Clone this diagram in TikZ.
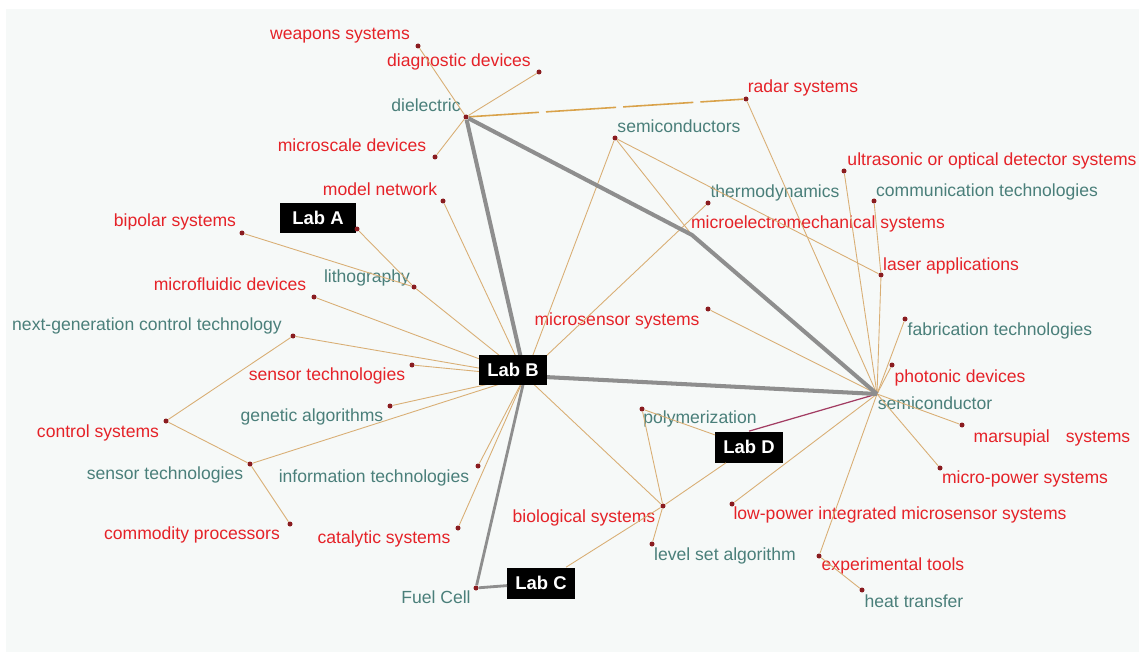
\documentclass[tikz,border=0pt]{standalone}
\usepackage{fontspec}
\setmainfont{Liberation Sans}
\usepackage{xcolor}
\definecolor{termred}{HTML}{E52228}
\definecolor{termteal}{HTML}{4A7F7A}
\definecolor{dotred}{HTML}{8A1C20}
\definecolor{linktan}{HTML}{D9AE74}
\definecolor{hotorange}{HTML}{D9A24A}
\definecolor{labgray}{HTML}{8E8E8E}
\definecolor{labmagenta}{HTML}{A23C62}
\definecolor{panel}{HTML}{F6F9F8}

\begin{document}
\begin{tikzpicture}[
  x=0.02cm,
  y=-0.02cm,
  every node/.style={font=\fontsize{10}{12}\selectfont},
  dot/.style={circle, fill=dotred, inner sep=0pt, minimum size=0.1cm},
  redterm/.style={anchor=base, inner sep=0pt, text=termred},
  tealterm/.style={anchor=base, inner sep=0pt, text=termteal},
  link/.style={linktan, line width=0.5pt},
  hotlink/.style={hotorange, line width=0.9pt, dash pattern=on 40pt off 4pt},
  labline/.style={labgray, line width=2.3pt},
  labthin/.style={labgray, line width=1.6pt},
  dlink/.style={labmagenta, line width=0.7pt},
  labbox/.style={fill=black, text=white,
    font=\fontsize{10.5}{12}\selectfont\bfseries,
    minimum height=0.62cm, inner xsep=0.16cm, inner ysep=0pt}
]
  % ================= canvas ==============================================
  \useasboundingbox (0,0) rectangle (1142,655);
  \fill[panel] (6,9) rectangle (1139,652);

  % ================= lab boxes that the links run to ======================
  \node[labbox, minimum width=1.54cm] (labA) at (318,218) {Lab A};
  \node[labbox] (labC) at (541,583) {Lab C};
  \node[labbox] (labD) at (749,447) {Lab D};

  % ================= terms ===============================================
  \foreach \n/\x/\y/\t in {
      weap/340/40/weapons systems, diag/459/67/diagnostic devices,
      micsc/352/152/microscale devices, model/380/195/model network,
      bipol/175/227/bipolar systems, mfluid/230/290/microfluidic devices,
      sensr/327/380/sensor technologies, ctrl/98/437/control systems,
      commod/192/539/commodity processors, catal/384/543/catalytic systems,
      biol/584/522/biological systems,
      lowp/900/519/low-power integrated microsensor systems,
      exper/893/570/experimental tools, mpower/1025/483/micro-power systems,
      marsu/1052/442/{marsupial\hspace{0.32cm}systems},
      photon/960/382/photonic devices, msens/617/325/microsensor systems,
      laser/951/270/laser applications,
      mems/818/229/microelectromechanical systems,
      ultra/992/166/ultrasonic or optical detector systems,
      radar/803/93/radar systems}
    \node[redterm] (t-\n) at (\x,\y) {\t};

  \foreach \n/\x/\y/\t in {
      diel/426/112/dielectric, litho/367/282/lithography,
      nextgen/147/330/next-generation control technology,
      genet/312/421/genetic algorithms, senst/165/479/sensor technologies,
      info/374/482/information technologies, fuel/436/603/Fuel Cell,
      level/725/560/level set algorithm, polym/700/423/polymerization,
      heat/914/607/heat transfer, semi/935/409/semiconductor,
      fab/1000/335/fabrication technologies,
      comm/987/196/communication technologies,
      thermo/775/197/thermodynamics, semis/679/133/semiconductors}
    \node[tealterm] (t-\n) at (\x,\y) {\t};

  % ================= dots and hubs =======================================
  \foreach \n/\x/\y in {
      weap/418/46, diag/539/72, diel/466/117, micsc/435/157, radar/746/99,
      semis/615/138, thermo/708/203, ultra/844/171, comm/874/201,
      laser/881/275, model/443/201, dA/357/229, litho/414/287,
      bipol/242/233, mfluid/314/297, nextgen/293/336, sensr/412/365,
      genet/390/406, ctrl/166/421, senst/250/464, commod/290/524,
      info/478/466, catal/458/528, fuel/476/588, msens/708/309,
      fab/905/319, photon/892/365, marsu/962/425, mpower/940/468,
      lowp/732/504, exper/819/556, heat/862/590, polym/642/409,
      biol/663/506, level/652/544}
    \node[dot] (\n) at (\x,\y) {};

  \coordinate (hubB) at (525,376);
  \coordinate (semi) at (877,394);
  \coordinate (mems) at (692,235);

  % ================= term links ==========================================
  \foreach \a/\b in {
      diel/weap, diel/diag, diel/micsc, radar/semi, semis/hubB, semis/mems,
      semis/laser, thermo/hubB, ultra/semi, comm/laser, laser/semi,
      model/hubB, dA/litho, bipol/litho, litho/hubB, mfluid/hubB,
      nextgen/hubB, ctrl/nextgen, sensr/hubB, genet/hubB, senst/hubB,
      ctrl/senst, senst/commod, info/hubB, catal/hubB, hubB/biol,
      msens/semi, fab/semi, photon/semi, marsu/semi, mpower/semi,
      lowp/semi, exper/semi, heat/exper, polym/biol, level/biol,
      labC/biol, labD/biol, polym/labD}
    \draw[link] (\a) -- (\b);

  \draw[hotlink] (diel) -- (radar);
  \draw[dlink] (labD.north) -- (semi);

  % ================= lab links ===========================================
  \draw[labline] (diel) -- (hubB);
  \draw[labline, line join=round] (diel) -- (mems) -- (semi);
  \draw[labline] (hubB) -- (semi);
  \draw[labthin] (hubB) -- (fuel);
  \draw[labthin] (fuel) -- (labC);

  % Lab B sits on top of the hub, hiding where the links meet.
  \node[labbox] (labB) at (513,370) {Lab B};
\end{tikzpicture}
\end{document}
